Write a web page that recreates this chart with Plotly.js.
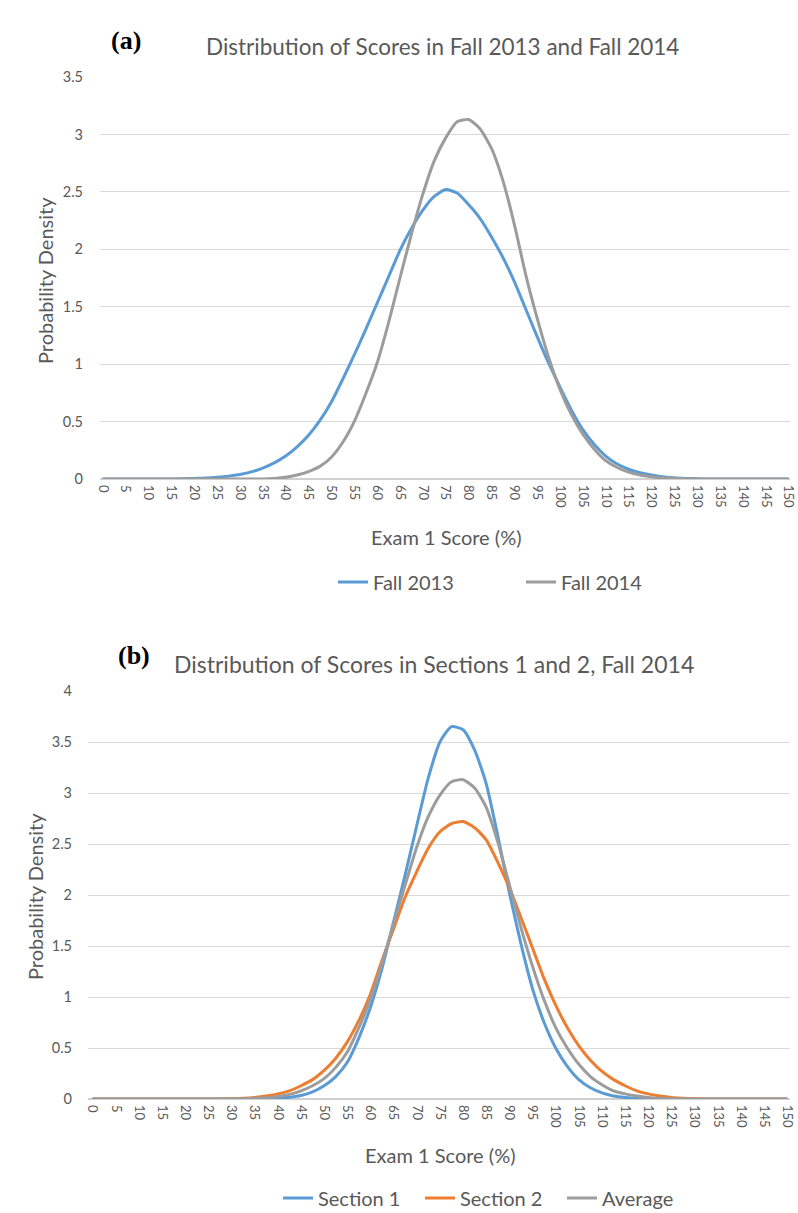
<!DOCTYPE html>
<html>
<head>
<meta charset="utf-8">
<script src="https://cdn.plot.ly/plotly-3.0.1.min.js"></script>
<style>html,body{margin:0;padding:0;background:#fff}#chart{width:798px;height:1213px}</style>
</head>
<body>
<div id="chart"></div>
<script>
// Exam 1 score (%) sample points
const scores = [0,2.5,5,7.5,10,12.5,15,17.5,20,22.5,25,27.5,30,32.5,35,37.5,40,42.5,45,47.5,50,52.5,55,57.5,60,62.5,65,67.5,70,72.5,75,77.5,80,82.5,85,87.5,90,92.5,95,97.5,100,102.5,105,107.5,110,112.5,115,117.5,120,122.5,125,127.5,130,132.5,135,137.5,140,142.5,145,147.5,150];

// Panel (a)
const fall2013 = [0,0,0,0,0,0,0,0.002,0.005,0.008,0.015,0.025,0.04,0.062,0.095,0.14,0.2,0.28,0.38,0.51,0.67,0.87,1.08,1.3,1.53,1.76,1.99,2.18,2.34,2.46,2.52,2.49,2.39,2.27,2.11,1.93,1.72,1.48,1.24,1.01,0.8,0.6,0.43,0.3,0.2,0.13,0.085,0.055,0.035,0.02,0.01,0.005,0.002,0,0,0,0,0,0,0,0];
const fall2014 = [0,0,0,0,0,0,0,0,0,0,0,0,0,0,0,0.005,0.015,0.035,0.065,0.11,0.19,0.32,0.5,0.74,1.01,1.36,1.75,2.13,2.48,2.77,2.97,3.11,3.13,3.05,2.88,2.6,2.22,1.78,1.4,1.06,0.78,0.56,0.39,0.26,0.16,0.1,0.06,0.035,0.02,0.01,0.005,0.002,0,0,0,0,0,0,0,0,0];

// Panel (b)
const section1 = [0,0,0,0,0,0,0,0,0,0,0,0,0,0,0,0.003,0.008,0.018,0.035,0.07,0.13,0.22,0.36,0.6,0.9,1.28,1.74,2.2,2.68,3.15,3.5,3.65,3.62,3.42,3.09,2.58,2.02,1.52,1.08,0.75,0.5,0.32,0.19,0.11,0.06,0.03,0.015,0.006,0.002,0,0,0,0,0,0,0,0,0,0,0,0];
const section2 = [0,0,0,0,0,0,0,0,0,0,0,0,0.003,0.007,0.015,0.03,0.05,0.08,0.13,0.19,0.28,0.4,0.56,0.77,1.03,1.36,1.67,1.98,2.23,2.46,2.62,2.7,2.72,2.66,2.54,2.32,2.07,1.78,1.48,1.18,0.92,0.7,0.52,0.38,0.27,0.19,0.13,0.08,0.05,0.03,0.015,0.007,0.003,0,0,0,0,0,0,0,0];
const average = [0,0,0,0,0,0,0,0,0,0,0,0,0,0.003,0.007,0.012,0.025,0.045,0.08,0.13,0.2,0.31,0.46,0.7,0.98,1.33,1.72,2.1,2.47,2.77,2.98,3.11,3.13,3.05,2.86,2.52,2.1,1.68,1.3,0.97,0.7,0.5,0.34,0.22,0.14,0.08,0.05,0.03,0.015,0.007,0.003,0,0,0,0,0,0,0,0,0,0];

// Axis tick labels
const xTickVals = [0,5,10,15,20,25,30,35,40,45,50,55,60,65,70,75,80,85,90,95,100,105,110,115,120,125,130,135,140,145,150];
const xTickText = ['0','5','10','15','20','25','30','35','40','45','50','55','60','65','70','75','80','85','90','95','100','105','110','115','120','125','130','135','140','145','150'];
const yTickA = [0,0.5,1,1.5,2,2.5,3,3.5];
const yTickB = [0,0.5,1,1.5,2,2.5,3,3.5,4];

const FONT = 'Lato, "Open Sans", sans-serif';
const SERIF = '"Liberation Serif", "Times New Roman", serif';
const TXT = '#595959';
const BLUE = '#5B9BD5', ORANGE = '#ED7D31', GRAY = '#9C9C9C';
const W = 798, H = 1213;
const px = v => v / W, py = v => 1 - v / H;

function line(y, name, color, xa, ya, leg) {
  return {x: scores, y: y, name: name, type: 'scatter', mode: 'lines',
    line: {color: color, width: 3, shape: 'spline', smoothing: 0.6},
    xaxis: xa, yaxis: ya, legend: leg, hoverinfo: 'skip'};
}

const data = [
  line(fall2013, 'Fall 2013', BLUE, 'x', 'y', 'legend'),
  line(fall2014, 'Fall 2014', GRAY, 'x', 'y', 'legend'),
  line(section1, 'Section 1', BLUE, 'x2', 'y2', 'legend2'),
  line(section2, 'Section 2', ORANGE, 'x2', 'y2', 'legend2'),
  line(average, 'Average', GRAY, 'x2', 'y2', 'legend2')
];

function xaxis(domain, range, anchor) {
  return {domain: domain, range: range, anchor: anchor, tickmode: 'array',
    tickvals: xTickVals, ticktext: xTickText, tickangle: 90,
    tickfont: {family: FONT, size: 13, color: TXT}, showgrid: false,
    zeroline: false, showline: false, ticks: '', ticklabelstandoff: 5, fixedrange: true};
}
function yaxis(domain, range, vals, anchor, standoff) {
  return {domain: domain, range: range, anchor: anchor, tickmode: 'array',
    tickvals: vals, ticktext: vals.map(String),
    tickfont: {family: FONT, size: 14.5, color: TXT}, showgrid: true,
    gridcolor: '#D9D9D9', gridwidth: 1, zeroline: true, zerolinecolor: '#D0D0D0',
    zerolinewidth: 1.5, showline: false, ticks: '', ticklabelstandoff: standoff, fixedrange: true};
}

function ann(text, x, y, size, family, color, angle) {
  return {text: text, x: px(x), y: py(y), xref: 'paper', yref: 'paper', showarrow: false,
    xanchor: 'center', yanchor: 'middle', textangle: angle || 0,
    font: {family: family, size: size, color: color}};
}

const layout = {
  width: W, height: H, margin: {l: 0, r: 0, t: 0, b: 0, autoexpand: false},
  paper_bgcolor: '#fff', plot_bgcolor: '#fff',
  font: {family: FONT, color: TXT},
  xaxis: xaxis([px(100), px(790)], [-0.6, 150.3], 'y'),
  yaxis: yaxis([1 - 479 / H, 1 - 77 / H], [0, 3.5], yTickA, 'x', 16),
  xaxis2: xaxis([px(88), px(790)], [-1, 150.6], 'y2'),
  yaxis2: yaxis([1 - 1099 / H, 1 - 691 / H], [0, 4], yTickB, 'x2', 15),
  legend: {orientation: 'h', x: px(333), xanchor: 'left', y: py(582), yanchor: 'middle',
    font: {family: FONT, size: 20, color: TXT}, entrywidth: 143, entrywidthmode: 'pixels',
    bgcolor: 'rgba(0,0,0,0)'},
  legend2: {orientation: 'h', x: px(278), xanchor: 'left', y: py(1198), yanchor: 'middle',
    font: {family: FONT, size: 20, color: TXT}, entrywidth: 97, entrywidthmode: 'pixels',
    bgcolor: 'rgba(0,0,0,0)'},
  annotations: [
    ann('<b>(a)</b>', 126, 40, 26, SERIF, '#000'),
    ann('Distribution of Scores in Fall 2013 and Fall 2014', 442, 47, 22.5, FONT, TXT),
    ann('Probability Density', 45, 281, 20, FONT, TXT, -90),
    ann('Exam 1 Score (%)', 446, 537, 20, FONT, TXT),
    ann('<b>(b)</b>', 134, 655, 26, SERIF, '#000'),
    ann('Distribution of Scores in Sections 1 and 2, Fall 2014', 434, 664, 23, FONT, TXT),
    ann('Probability Density', 35, 897, 20, FONT, TXT, -90),
    ann('Exam 1 Score (%)', 440, 1155, 20, FONT, TXT)
  ]
};

Plotly.newPlot('chart', data, layout, {displayModeBar: false, staticPlot: true});
</script>
</body>
</html>
